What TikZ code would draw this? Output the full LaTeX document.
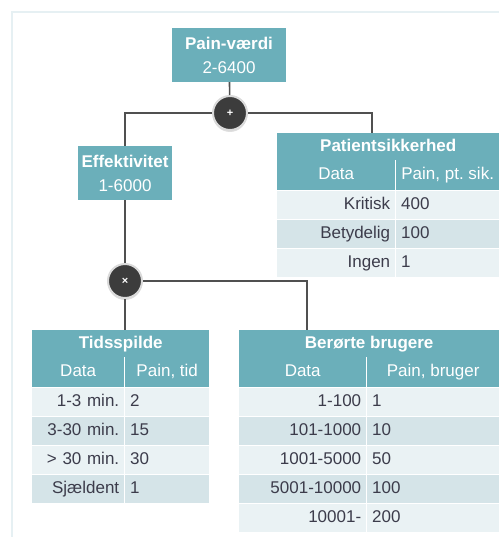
\documentclass[tikz,border=0pt]{standalone}
\usepackage{fontspec}
\setmainfont{Liberation Sans}
\usetikzlibrary{shadows}

\definecolor{painteal}{RGB}{107,175,186}
\definecolor{rowlight}{RGB}{234,242,244}
\definecolor{rowdark}{RGB}{213,228,232}
\definecolor{opgray}{RGB}{60,60,60}
\definecolor{ringgray}{RGB}{218,218,218}
\definecolor{wiregray}{RGB}{80,80,80}
\definecolor{celltext}{RGB}{60,60,75}
\definecolor{framecol}{RGB}{230,240,243}

\tikzset{
  valbox/.style={fill=painteal, text=white, font=\fontsize{17}{24}\selectfont, align=center, minimum height=54, inner sep=0},
  opnode/.style={circle, fill=opgray, draw=ringgray, line width=2pt, minimum size=34, inner sep=0, text=white, font=\bfseries\fontsize{11}{11}\selectfont, drop shadow={opacity=0.25, shadow xshift=0pt, shadow yshift=-2pt}},
  wire/.style={draw=wiregray, line width=1.6pt},
  tabhead/.style={fill=painteal, text=white, font=\bfseries\fontsize{17}{20}\selectfont, minimum height=27, text height=12.5, text depth=3.5, inner sep=0, anchor=north west},
  colhead/.style={fill=painteal, text=white, font=\fontsize{17}{20}\selectfont, minimum height=30, text height=12.5, text depth=3.5, inner sep=0, anchor=north west},
  datacell/.style={text=celltext, font=\fontsize{17}{20}\selectfont, minimum height=28, text height=12.5, text depth=3.5, inner xsep=5, inner ysep=0, align=right, anchor=north west},
  paincell/.style={datacell, align=left}
}

\begin{document}
\begin{tikzpicture}[x=1pt,y=-1pt]
\useasboundingbox (0,0) rectangle (499,537);
\draw[framecol, line width=2pt] (12,537) -- (12,12) -- (499,12);

% value boxes
\node[valbox, minimum width=114] (pain) at (229,55) {\textbf{Pain-værdi}\\2-6400};
\node[opnode] (plus) at (230,113) {+};
\node[valbox, minimum width=94] (eff) at (125,173) {\textbf{Effektivitet}\\1-6000};
\node[opnode] (times) at (125,281) {×};

% Patientsikkerhed
\node[tabhead, minimum width=222] (pat) at (277,133) {Patientsikkerhed};
\node[colhead, minimum width=118] (patd) at (277,160) {Data};
\node[colhead, minimum width=103] (patp) at (396,160) {Pain, pt.\ sik.};
\foreach \d/\v/\c [count=\i] in {Kritisk/400/rowlight, Betydelig/100/rowdark, Ingen/1/rowlight}{
  \node[datacell, fill=\c, text width=108] (patd\i) at (277,{191+29*(\i-1)}) {\d};
  \node[paincell, fill=\c, text width=93] (patv\i) at (396,{191+29*(\i-1)}) {\v};
}

% Tidsspilde
\node[tabhead, minimum width=177] (tid) at (32,330) {Tidsspilde};
\node[colhead, minimum width=92] (tidd) at (32,357) {Data};
\node[colhead, minimum width=84] (tidp) at (125,357) {Pain, tid};
\foreach \d/\v/\c [count=\i] in {1-3 min./2/rowlight, 3-30 min./15/rowdark, > 30 min./30/rowlight, Sjældent/1/rowdark}{
  \node[datacell, fill=\c, text width=82] (tidd\i) at (32,{388+29*(\i-1)}) {\d};
  \node[paincell, fill=\c, text width=74] (tidv\i) at (125,{388+29*(\i-1)}) {\v};
}

% Berørte brugere
\node[tabhead, minimum width=260] (ber) at (239,330) {Berørte brugere};
\node[colhead, minimum width=127] (berd) at (239,357) {Data};
\node[colhead, minimum width=132] (berp) at (367,357) {Pain, bruger};
\foreach \d/\v/\c [count=\i] in {1-100/1/rowlight, 101-1000/10/rowdark, 1001-5000/50/rowlight, 5001-10000/100/rowdark, 10001-/200/rowlight}{
  \node[datacell, fill=\c, text width=117] (berd\i) at (239,{388+29*(\i-1)}) {\d};
  \node[paincell, fill=\c, text width=122] (berv\i) at (367,{388+29*(\i-1)}) {\v};
}

% connectors
\draw[wire] (pain) -- (plus);
\draw[wire] (plus) -| (eff);
\draw[wire] (plus) -| ([xshift=-16pt]pat.north);
\draw[wire] (eff) -- (times);
\draw[wire] (times) -- (tid.north -| times);
\draw[wire] (times) -| ([xshift=-62pt]ber.north);
\end{tikzpicture}
\end{document}
